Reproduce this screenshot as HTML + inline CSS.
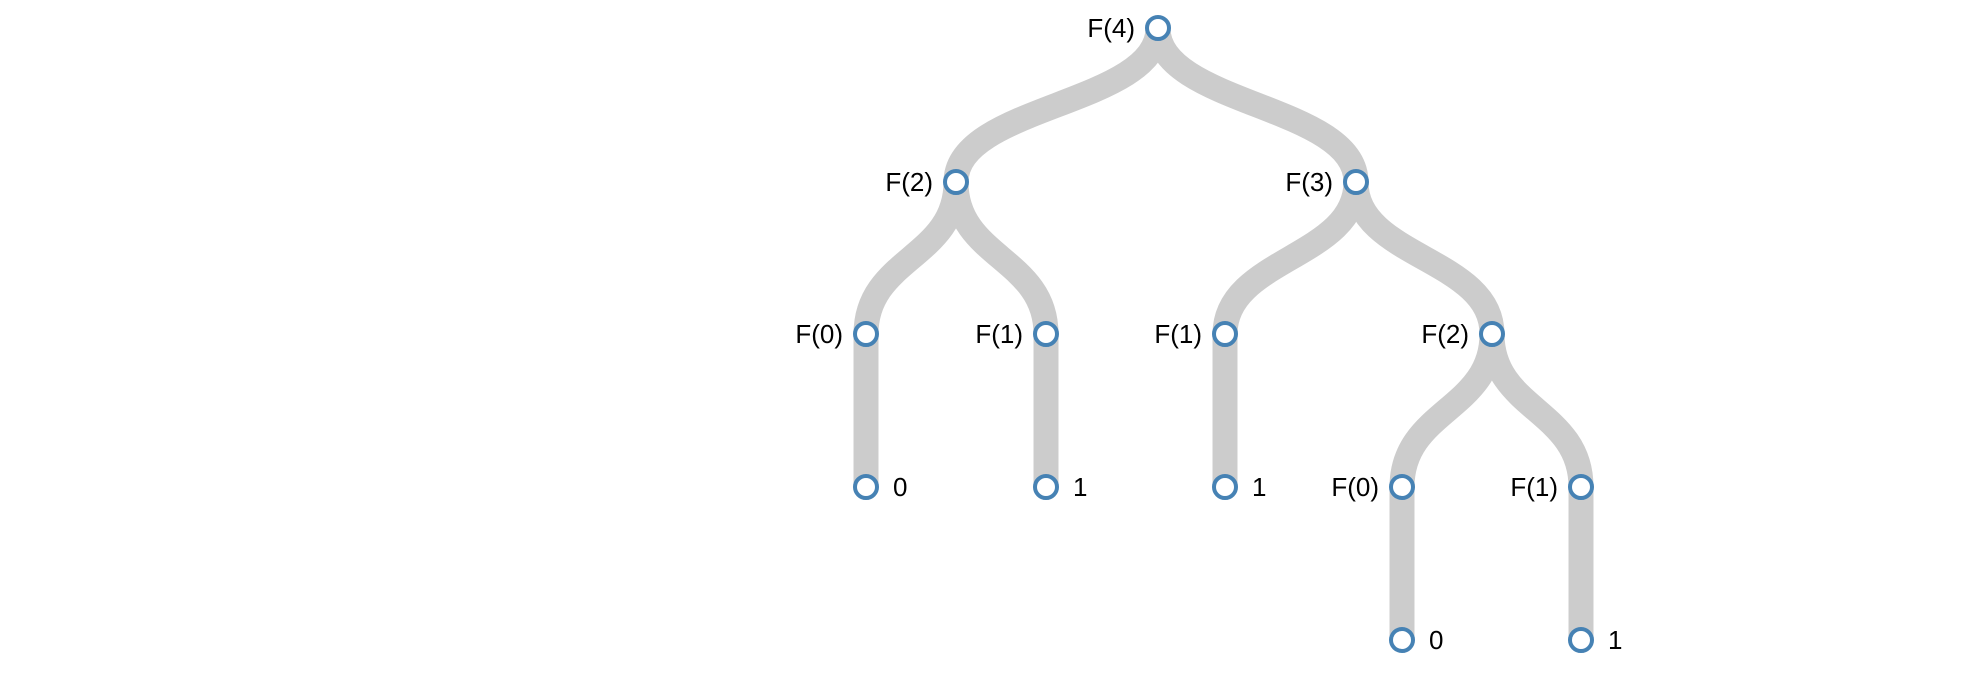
<!DOCTYPE html>
<html><head><meta charset="utf-8"><style>
html,body{margin:0;padding:0;background:#fff;}
svg{display:block;}
text{font-family:"Liberation Sans",Arial,sans-serif;font-size:26px;fill:#000;}
</style></head><body>
<svg width="1975" height="674" viewBox="0 0 1975 674">
<g fill="none" stroke="#ccc" stroke-width="25">
<path d="M1158,28C1158,105 956,105 956,182"/>
<path d="M1158,28C1158,105 1356,105 1356,182"/>
<path d="M956,182C956,258 866,258 866,334"/>
<path d="M956,182C956,258 1046,258 1046,334"/>
<path d="M1356,182C1356,258 1225,258 1225,334"/>
<path d="M1356,182C1356,258 1492,258 1492,334"/>
<path d="M866,334L866,487"/>
<path d="M1046,334L1046,487"/>
<path d="M1225,334L1225,487"/>
<path d="M1492,334C1492,410 1402,410 1402,487"/>
<path d="M1492,334C1492,410 1581,410 1581,487"/>
<path d="M1402,487L1402,640"/>
<path d="M1581,487L1581,640"/>
</g>
<g fill="#fff" stroke="steelblue" stroke-width="4">
<circle cx="1158" cy="28" r="11"/>
<circle cx="956" cy="182" r="11"/>
<circle cx="1356" cy="182" r="11"/>
<circle cx="866" cy="334" r="11"/>
<circle cx="1046" cy="334" r="11"/>
<circle cx="1225" cy="334" r="11"/>
<circle cx="1492" cy="334" r="11"/>
<circle cx="866" cy="487" r="11"/>
<circle cx="1046" cy="487" r="11"/>
<circle cx="1225" cy="487" r="11"/>
<circle cx="1402" cy="487" r="11"/>
<circle cx="1581" cy="487" r="11"/>
<circle cx="1402" cy="640" r="11"/>
<circle cx="1581" cy="640" r="11"/>
</g>
<g text-anchor="end">
<text x="1135" y="37">F(4)</text>
<text x="933" y="191">F(2)</text>
<text x="1333" y="191">F(3)</text>
<text x="843" y="343">F(0)</text>
<text x="1023" y="343">F(1)</text>
<text x="1202" y="343">F(1)</text>
<text x="1469" y="343">F(2)</text>
<text x="1379" y="496">F(0)</text>
<text x="1558" y="496">F(1)</text>
</g>
<g>
<text x="893" y="496">0</text>
<text x="1073" y="496">1</text>
<text x="1252" y="496">1</text>
<text x="1429" y="649">0</text>
<text x="1608" y="649">1</text>
</g>
</svg>
</body></html>
